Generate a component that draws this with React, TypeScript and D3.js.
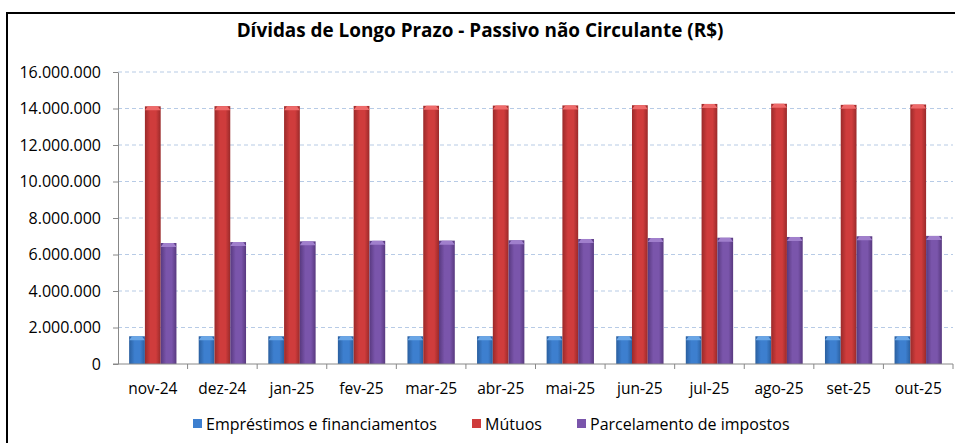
import React, { useEffect, useRef } from 'react';
import * as d3 from 'd3';

const months = ['nov-24', 'dez-24', 'jan-25', 'fev-25', 'mar-25', 'abr-25', 'mai-25', 'jun-25', 'jul-25', 'ago-25', 'set-25', 'out-25'];
const seriesNames = ['Empréstimos e financiamentos', 'Mútuos', 'Parcelamento de impostos'];
const emprestimos = [1520000, 1520000, 1520000, 1520000, 1520000, 1520000, 1520000, 1520000, 1520000, 1520000, 1520000, 1520000];
const mutuos = [14120000, 14130000, 14130000, 14140000, 14150000, 14160000, 14170000, 14180000, 14250000, 14260000, 14200000, 14220000];
const parcelamento = [6630000, 6680000, 6720000, 6750000, 6760000, 6780000, 6850000, 6900000, 6920000, 6960000, 7000000, 7020000];
const yTicks = [0, 2000000, 4000000, 6000000, 8000000, 10000000, 12000000, 14000000, 16000000];

const colors = [
    { base: '#3d7fcf', dark: '#2a5f9f', light: '#6aa6e6' },
    { base: '#cf3c3c', dark: '#9a2a2a', light: '#ee6a6a' },
    { base: '#7a55ab', dark: '#58397f', light: '#a07fcc' },
];

const App = () => {
    const svgRef = useRef<SVGSVGElement>(null);

    useEffect(() => {
        const svg = d3.select(svgRef.current);
        svg.selectAll('*').remove();

        const width = 955;
        const height = 443;
        const left = 118, right = 953, top = 72, bottom = 364;
        const font = '"Open Sans", Lato, sans-serif';

        // gradients for the cylinder-like bars
        const defs = svg.append('defs');
        colors.forEach((c, i) => {
            const g = defs.append('linearGradient').attr('id', `grad${i}`)
                .attr('x1', '0').attr('x2', '1').attr('y1', '0').attr('y2', '0');
            g.append('stop').attr('offset', '0%').attr('stop-color', c.dark);
            g.append('stop').attr('offset', '35%').attr('stop-color', c.base);
            g.append('stop').attr('offset', '70%').attr('stop-color', c.base);
            g.append('stop').attr('offset', '100%').attr('stop-color', c.dark);
        });

        svg.append('rect').attr('width', width).attr('height', height).attr('fill', '#fff');

        // outer frame (cut at right/bottom like the source)
        svg.append('rect')
            .attr('x', 7).attr('y', 13).attr('width', 960).attr('height', 440)
            .attr('fill', 'none').attr('stroke', '#000').attr('stroke-width', 2);

        svg.append('text')
            .attr('x', 480).attr('y', 37)
            .attr('text-anchor', 'middle')
            .attr('font-family', font).attr('font-weight', 'bold').attr('font-size', 18.9)
            .attr('fill', '#000')
            .text('Dívidas de Longo Prazo - Passivo não Circulante (R$)');

        const x0 = d3.scaleBand().domain(months).range([left, right]).padding(0);
        const step = x0.bandwidth();
        const x1 = d3.scaleBand().domain(seriesNames).range([step * 0.16, step * 0.84]).padding(0);
        const y = d3.scaleLinear().domain([0, 16000000]).range([bottom, top]);

        // gridlines
        svg.append('g')
            .selectAll('line')
            .data(yTicks.filter(t => t > 0))
            .join('line')
            .attr('x1', left).attr('x2', right)
            .attr('y1', d => y(d)).attr('y2', d => y(d))
            .attr('stroke', '#b7cbe6').attr('stroke-width', 1.2)
            .attr('stroke-dasharray', '4,3');

        const fmt = (v: number) => v === 0 ? '0' : d3.format(',')(v).replace(/,/g, '.');

        const yAxis = svg.append('g')
            .attr('transform', `translate(${left},0)`)
            .call(d3.axisLeft(y).tickValues(yTicks).tickFormat(d => fmt(+d)).tickSize(5).tickSizeOuter(0).tickPadding(12));
        yAxis.select('.domain').attr('stroke', '#888');
        yAxis.selectAll('line').attr('stroke', '#888');
        yAxis.selectAll('text').attr('font-family', font).attr('font-size', 16).attr('fill', '#000');

        const rows = months.map((m, i) => ({ month: m, values: [emprestimos[i], mutuos[i], parcelamento[i]] }));

        const groups = svg.append('g')
            .selectAll('g')
            .data(rows)
            .join('g')
            .attr('transform', d => `translate(${x0(d.month)},0)`);

        groups.selectAll('g.bar')
            .data(d => d.values.map((v, k) => ({ key: seriesNames[k], k, value: v })))
            .join('g')
            .attr('class', 'bar')
            .each(function (d) {
                const g = d3.select(this);
                const bx = x1(d.key)!;
                const bw = x1.bandwidth();
                const by = y(d.value);
                g.append('rect')
                    .attr('x', bx).attr('y', by)
                    .attr('width', bw).attr('height', bottom - by)
                    .attr('fill', `url(#grad${d.k})`);
                // top bevel highlight
                g.append('path')
                    .attr('d', `M${bx},${by + 4}L${bx + 3},${by}L${bx + bw - 3},${by}L${bx + bw},${by + 4}Z`)
                    .attr('fill', colors[d.k].light);
            });

        const xAxis = svg.append('g')
            .attr('transform', `translate(0,${bottom})`)
            .call(d3.axisBottom(x0).tickSize(0).tickPadding(19));
        xAxis.select('.domain').remove();
        xAxis.selectAll('text').attr('font-family', font).attr('font-size', 15.5).attr('fill', '#000');

        svg.append('line')
            .attr('x1', left - 5).attr('x2', right).attr('y1', bottom).attr('y2', bottom)
            .attr('stroke', '#888');
        svg.append('g')
            .selectAll('line')
            .data(months)
            .join('line')
            .attr('x1', d => x0(d)! + step).attr('x2', d => x0(d)! + step)
            .attr('y1', bottom).attr('y2', bottom + 5)
            .attr('stroke', '#888');

        // legend
        const legendX = [193, 472, 577];
        const legend = svg.append('g')
            .selectAll('g')
            .data(seriesNames)
            .join('g')
            .attr('transform', (d, i) => `translate(${legendX[i]},${424})`);
        legend.append('rect')
            .attr('x', 0).attr('y', -5).attr('width', 9).attr('height', 9)
            .attr('fill', (d, i) => colors[i].base);
        legend.append('text')
            .attr('x', 13).attr('y', 5.5)
            .attr('font-family', font).attr('font-size', 16).attr('fill', '#000')
            .text(d => d);
    }, []);

    return (
        <svg ref={svgRef} width={955} height={443} style={{ position: 'absolute', left: 0, top: 0, display: 'block' }}></svg>
    );
};

export default App;
